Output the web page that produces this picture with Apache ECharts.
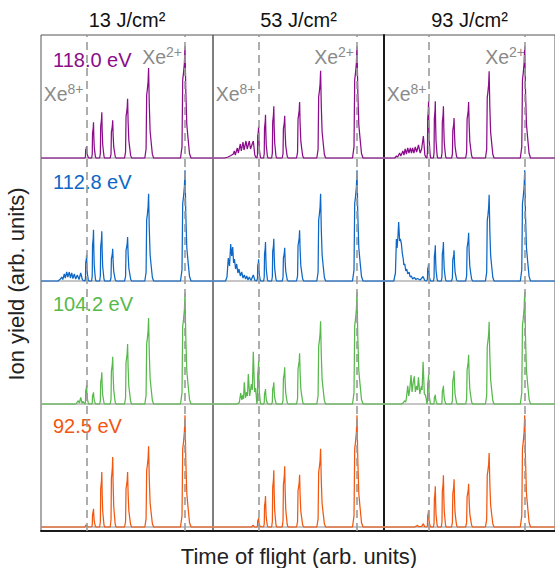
<!DOCTYPE html>
<html>
<head>
<meta charset="utf-8">
<script src="https://cdn.jsdelivr.net/npm/echarts@6/dist/echarts.min.js"></script>
<style>
  html, body { margin: 0; padding: 0; background: #fff; }
  #chart { width: 555px; height: 568px; }
</style>
</head>
<body>
<div id="chart"></div>
<script>
// columns: laser fluence, rows: photon energy
const fluences = ['13 J/cm²', '53 J/cm²', '93 J/cm²']
const energies = ['118.0 eV', '112.8 eV', '104.2 eV', '92.5 eV']
const energyColors = ['#8b0d8b', '#0c67c6', '#57b94b', '#f2570f']

// charge states Xe2+ ... Xe8+ and their time of flight (arb. units)
const charges = ['2+', '3+', '4+', '5+', '6+', '7+', '8+']
const peakTof = [144, 107.6, 86.6, 71.7, 60.8, 52.5, 45.6]
const peakHalfWidth = [5, 4.2, 3.4, 2.8, 2.4, 2.1, 1.9]
// dashed markers at Xe8+ and Xe2+
const markTof = [45.6, 144]

// measured peak shape (isotope shoulder on the left, tail on the right)
const shapeX = [-0.9, -0.6, -0.46, -0.3, -0.12, 0, 0.16, 0.36, 0.6, 0.9, 1.2]
const shapeY = [0, 0.1, 0.7, 0.76, 0.85, 1, 0.6, 0.3, 0.18, 0.04, 0]

// peak heights Xe2+ ... Xe8+, one list per fluence column
const yield118 = [
  [111.7, 90, 59.3, 37.7, 45.7, 35.7, 12],
  [111.7, 87.3, 56, 42.3, 51.7, 43.3, 31.7],
  [111.7, 86.7, 56, 40, 51.7, 56.7, 56.7]
]
const yield112 = [
  [110.7, 87.3, 44, 32.3, 49.7, 51.3, 26.3],
  [110.7, 87.3, 50.7, 33.3, 42.3, 39, 21.7],
  [110.7, 86.3, 48.3, 30.7, 39, 35.7, 17.3]
]
const yield104 = [
  [111, 86, 60, 47.3, 31.7, 11.7, 19.3],
  [111.7, 82.7, 50.7, 36.7, 21.7, 15, 43.3],
  [112.3, 82.3, 49.3, 33.3, 18.3, 9.3, 29]
]
const yield92 = [
  [111.7, 80.7, 55, 70, 55, 18.3, 2.3],
  [111.7, 78.3, 52.3, 60.7, 56.7, 31, 9],
  [111.7, 74, 43.3, 47.7, 51.7, 40.7, 16.7]
]

// highly charged region (Xe9+ and above), read point by point [tof, yield]
const high118 = [
  [],
  [[12, 0], [15, 1], [18, 2.5], [20.3, 4], [21.3, 7], [22.3, 3], [24.3, 10], [25.3, 5], [27.3, 14], [28.3, 7],
    [30, 16], [31, 8], [33, 17], [34.2, 9], [36.3, 17], [37.5, 9], [40.3, 17], [41.8, 3], [43, 0.5]],
  [[11, 0], [12.7, 2], [14, 1], [16, 5], [17.2, 2], [19.3, 7], [20.4, 3], [21.7, 9], [22.9, 4], [24.3, 10],
    [25.5, 5], [27, 10], [28.1, 5], [29.3, 10], [30.6, 5], [32, 11], [33.4, 6], [35.3, 13], [37, 5], [38.5, 9],
    [40.3, 22], [41.8, 3], [43, 0.5]]
]
const high112 = [
  [[17, 0], [19.5, 2], [20.7, 4], [21.8, 1.5], [23.3, 7], [24.3, 3], [25.7, 9], [26.8, 4], [28.3, 9], [29.4, 3],
    [30.7, 8], [31.9, 2.5], [33.3, 7], [34.7, 2], [36.3, 6], [38, 1.5], [39.7, 8], [41.5, 1], [43, 0.3]],
  [[12.5, 0], [14, 4], [15.3, 23], [16.5, 15], [17.7, 37], [18.7, 25], [19.7, 34], [20.6, 18], [21.4, 22], [22.6, 12],
    [23.7, 17], [24.9, 8], [26, 12], [27.3, 5], [28.7, 9], [30, 3], [31.3, 6], [32.6, 2], [33.7, 5], [35, 1],
    [36.3, 4], [38, 0.5], [40.3, 6], [42, 0.5], [43.5, 0]],
  [[10, 0], [11.7, 8], [12.7, 42], [13.4, 33], [14.3, 45], [15, 59], [16, 40], [16.7, 42], [17.7, 38], [18.7, 28],
    [19.7, 22], [20.3, 16], [21.3, 17], [22.3, 10], [23.3, 12], [24.3, 7], [25.7, 9], [26.7, 4], [28, 5], [29.3, 2],
    [31, 3.5], [32.7, 1.5], [34.3, 2.5], [37, 1], [40, 4.5], [41.7, 0.5], [43.5, 0]]
]
const high104 = [
  [[35, 0], [37.3, 3.3], [38.4, 1], [39.7, 6.7], [41, 1], [42.3, 2.5], [43.3, 0.5]],
  [[24, 0], [26.3, 1.5], [27.7, 11], [28.8, 4], [29.8, 9], [30.5, 5], [31.3, 21.7], [32.5, 6], [33.7, 12], [34.5, 8],
    [35.3, 30], [36.7, 8], [38.4, 20], [39.3, 14], [40.3, 52.3], [41.6, 12], [42.6, 16], [43.4, 6]],
  [[18, 0], [20, 1.5], [21, 3.3], [22.3, 2], [23.3, 9], [24.3, 18.3], [25.3, 8], [26.3, 14], [27.7, 29], [28.7, 12],
    [29.8, 21], [31, 27.7], [32.1, 12], [33.3, 18], [34.3, 14], [35.3, 26.7], [36.6, 10], [38.4, 18], [39, 14],
    [40, 42.3], [41.3, 10], [42.4, 9], [43.4, 4]]
]
const high92 = [
  [],
  [[38.5, 0], [40.3, 1.7], [41.5, 0]],
  [[31.5, 0], [34.3, 1.7], [35.5, 0.3], [38.6, 0.6], [40.3, 3.3], [41.6, 0.3]]
]

const rowYields = [yield118, yield112, yield104, yield92]
const rowHigh = [high118, high112, high104, high92]

// layout (px)
const colLeft = [41, 213, 384]
const colWidth = [172, 171, 175]
const frameTop = 35
const frameHeight = 496
const rowStep = 123
const font = '"Liberation Sans", Arial, sans-serif'

const buildSpectrum = (heights, high, xMax) => {
  const pts = [[0, 0], [xMax, 0]]
  heights.forEach((h, i) => {
    shapeX.forEach((s, k) => {
      pts.push([peakTof[i] + s * peakHalfWidth[i], h * shapeY[k]])
    })
  })
  high.forEach((p) => pts.push(p))
  pts.sort((a, b) => a[0] - b[0])
  return pts
}

const grid = []
const xAxis = []
const yAxis = []
const series = []
const graphic = []

// column frames with the dashed Xe8+ / Xe2+ markers
fluences.forEach((name, c) => {
  grid.push({
    left: colLeft[c], top: frameTop, width: colWidth[c], height: frameHeight,
    show: true, borderColor: '#555', borderWidth: 1, backgroundColor: 'transparent'
  })
  xAxis.push({
    gridIndex: c, type: 'value', min: 0, max: colWidth[c],
    axisLine: { show: true, onZero: false, lineStyle: { color: '#1a1a1a', width: 2 } },
    axisTick: { show: false }, axisLabel: { show: false }, splitLine: { show: false }
  })
  yAxis.push({
    gridIndex: c, type: 'value', min: 0, max: 1,
    axisLine: { show: c === 2, lineStyle: { color: '#1a1a1a', width: 2 } },
    axisTick: { show: false }, axisLabel: { show: false }, splitLine: { show: false }
  })
  series.push({
    type: 'line', xAxisIndex: c, yAxisIndex: c, data: [], z: 10, silent: true,
    markLine: {
      silent: true, symbol: 'none', animation: false,
      label: { show: false },
      lineStyle: { color: '#9a9a9a', width: 1.6, type: [8, 5] },
      data: markTof.map((t) => ({ xAxis: t }))
    }
  })
})

// spectra panels
energies.forEach((label, r) => {
  fluences.forEach((f, c) => {
    const g = grid.length
    grid.push({ left: colLeft[c], top: frameTop + rowStep * r, width: colWidth[c], height: rowStep })
    xAxis.push({
      gridIndex: g, type: 'value', min: 0, max: colWidth[c],
      axisLine: { show: true, lineStyle: { color: '#b4b4b4', width: 1.5 } },
      axisTick: { show: false }, axisLabel: { show: false }, splitLine: { show: false }
    })
    yAxis.push({
      gridIndex: g, type: 'value', min: 0, max: rowStep, show: false, splitLine: { show: false }
    })
    series.push({
      type: 'line', xAxisIndex: g, yAxisIndex: g, z: 3,
      symbol: 'none', silent: true, animation: false,
      lineStyle: { color: energyColors[r], width: 1.25 },
      data: buildSpectrum(rowYields[r][c], rowHigh[r][c], colWidth[c])
    })
  })
})

// text: fluences, ion labels, energies, axis names
const titleCenters = colLeft.map((l, c) => l + (c === 2 ? 171 : colWidth[c]) / 2)
titleCenters.forEach((x, c) => {
  graphic.push({
    type: 'text', x: x, y: 20, z: 1,
    style: { text: fluences[c], fill: '#111', font: '20px ' + font, align: 'center', verticalAlign: 'middle' }
  })
  const ionLabels = [['8+', 42.5, 94], ['2+', 141, 56.5]]
  ionLabels.forEach(([q, dx, y]) => {
    graphic.push({
      type: 'text', x: colLeft[c] + dx, y: y, z: 1,
      style: {
        text: '{a|Xe}{b|' + q + '}', align: 'right', verticalAlign: 'middle',
        rich: {
          a: { fontSize: 19.5, fontFamily: font, fill: '#8a8a8a', lineHeight: 24 },
          b: { fontSize: 14, fontFamily: font, fill: '#8a8a8a', lineHeight: 12, verticalAlign: 'top' }
        }
      }
    })
  })
})
energies.forEach((label, r) => {
  graphic.push({
    type: 'text', x: 53, y: 60 + 122 * r, z: 1,
    style: { text: label, fill: energyColors[r], font: '20px ' + font, verticalAlign: 'middle' }
  })
})
graphic.push({
  type: 'text', x: 299, y: 556, z: 1,
  style: { text: 'Time of flight (arb. units)', fill: '#222', font: '22px ' + font, align: 'center', verticalAlign: 'middle' }
})
graphic.push({
  type: 'text', x: 16, y: 284, z: 1, rotation: Math.PI / 2,
  style: { text: 'Ion yield (arb. units)', fill: '#222', font: '22px ' + font, align: 'center', verticalAlign: 'middle' }
})

const myChart = echarts.init(document.getElementById('chart'), null, { renderer: 'svg' })
myChart.setOption({
  animation: false,
  backgroundColor: '#fff',
  grid: grid,
  xAxis: xAxis,
  yAxis: yAxis,
  series: series,
  graphic: graphic
})
</script>
</body>
</html>
